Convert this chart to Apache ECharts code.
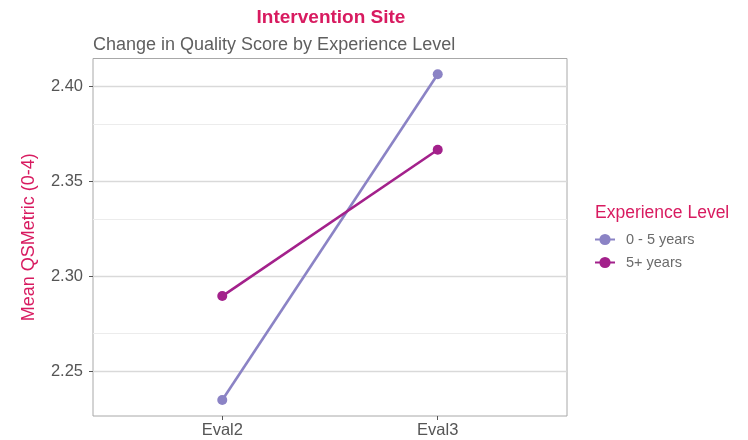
<!DOCTYPE html>
<html><head><meta charset="utf-8">
<script src="https://cdn.jsdelivr.net/npm/echarts@6/dist/echarts.min.js"></script>
<style>html,body{margin:0;padding:0;background:#fff}#c{width:748px;height:440px}</style>
</head><body><div id="c"></div>
<script>
const categories = ['Eval2', 'Eval3'];
const seriesNames = ['0 - 5 years', '5+ years'];
const young = [2.2351, 2.4065];
const senior = [2.2898, 2.3668];
const majorTicks = [2.25, 2.30, 2.35, 2.40];
const minorTicks = [2.275, 2.325, 2.375];

const colors = ['#8b83c5', '#a3218b'];
const accent = '#d81b60';
const chart = echarts.init(document.getElementById('c'));
const font = 'Liberation Sans, Arial, sans-serif';
const toXY = arr => arr.map((v, i) => [i + 1, v]);
const gridLines = [
  ...minorTicks.map(v => ({yAxis: v, lineStyle: {color: '#ececec', width: 1, type: 'solid'}})),
  ...majorTicks.map(v => ({yAxis: v, lineStyle: {color: '#d9d9d9', width: 1.3, type: 'solid'}}))
];
chart.setOption({
  animation: false,
  textStyle: {fontFamily: font},
  title: [
    {text: 'Intervention Site', left: 326, top: 3, textAlign: 'center',
     textStyle: {color: accent, fontSize: 19, fontWeight: 'bold', fontFamily: font}},
    {text: 'Change in Quality Score by Experience Level', left: 88, top: 31,
     textStyle: {color: '#5f5f5f', fontSize: 18, fontWeight: 'normal', fontFamily: font}},
    {text: 'Experience Level', left: 590, top: 199,
     textStyle: {color: accent, fontSize: 17.5, fontWeight: 'normal', fontFamily: font}}
  ],
  legend: {
    orient: 'vertical', left: 589, top: 227, itemGap: 8, itemWidth: 20, itemHeight: 14,
    data: seriesNames,
    textStyle: {color: '#6b6b6b', fontSize: 14.5, fontFamily: font, padding: [0, 0, 0, 6]}
  },
  grid: {left: 93, top: 58.5, width: 474, height: 357.5, show: true, borderColor: '#a8a8a8', borderWidth: 1, backgroundColor: '#fff'},
  xAxis: {
    type: 'value', min: 0.4, max: 2.6,
    axisLine: {show: false},
    splitLine: {show: false},
    axisTick: {show: true, customValues: [1, 2], length: 4, lineStyle: {color: '#555'}},
    axisLabel: {customValues: [1, 2], formatter: v => categories[Math.round(v) - 1] || '',
      color: '#555555', fontSize: 16.5, margin: 6, fontFamily: font}
  },
  yAxis: {
    type: 'value', min: 2.2267, max: 2.4148,
    name: 'Mean QSMetric (0-4)', nameLocation: 'middle', nameGap: 55, nameRotate: 90,
    nameTextStyle: {color: accent, fontSize: 18, fontFamily: font},
    axisLine: {show: false},
    splitLine: {show: false},
    axisTick: {show: true, customValues: majorTicks, length: 4, lineStyle: {color: '#555'}},
    axisLabel: {customValues: majorTicks, formatter: v => v.toFixed(2),
      color: '#555555', fontSize: 16.5, margin: 10, fontFamily: font}
  },
  series: [
    {name: '__grid', type: 'line', data: [], silent: true,
     markLine: {silent: true, symbol: 'none', label: {show: false}, animation: false, data: gridLines}},
    {name: seriesNames[0], type: 'line', data: toXY(young), color: colors[0], z: 5,
     symbol: 'circle', symbolSize: 10, lineStyle: {width: 2.6, color: colors[0]}, itemStyle: {color: colors[0]}},
    {name: seriesNames[1], type: 'line', data: toXY(senior), color: colors[1], z: 5,
     symbol: 'circle', symbolSize: 10, lineStyle: {width: 2.6, color: colors[1]}, itemStyle: {color: colors[1]}}
  ]
});
</script></body></html>
